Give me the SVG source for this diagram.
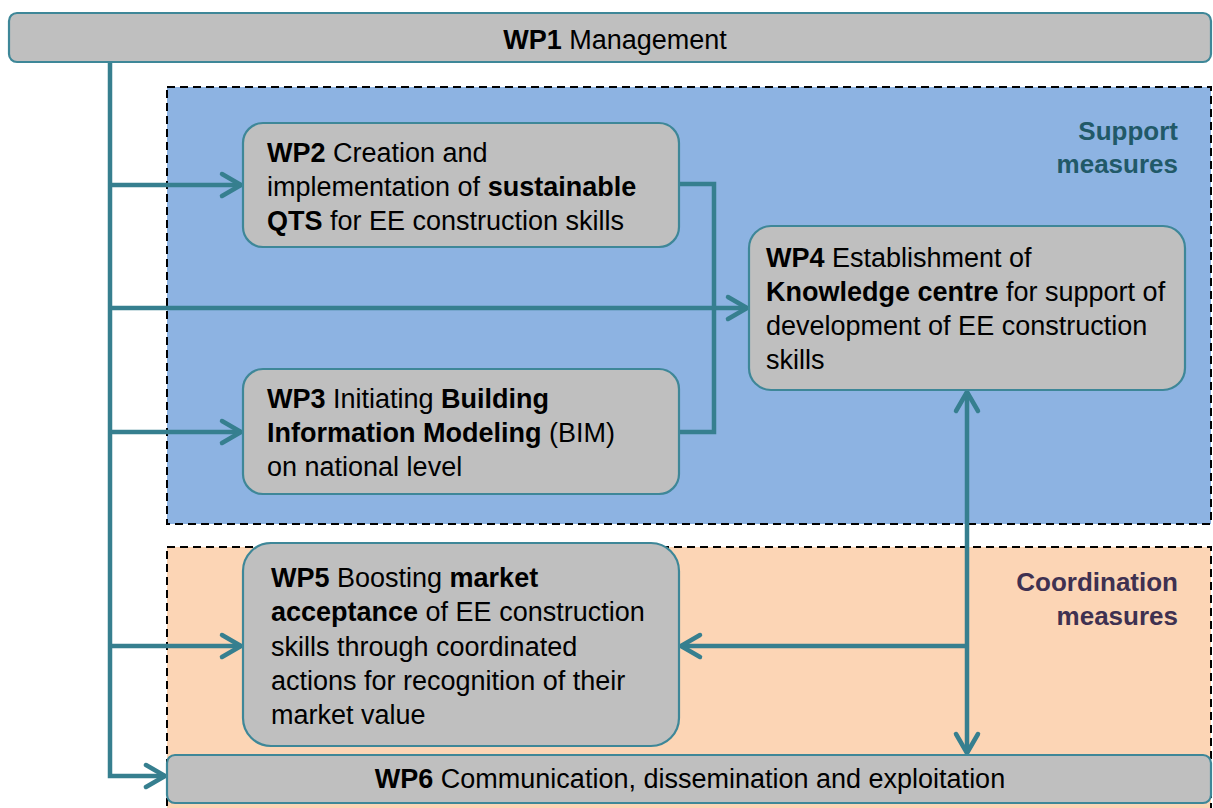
<svg xmlns="http://www.w3.org/2000/svg" width="1213" height="808" viewBox="0 0 1213 808">
<style>
text{font-family:"Liberation Sans",Arial,sans-serif;font-size:27px;fill:#000}
.b{font-weight:bold}
.box{fill:#bfbfbf;stroke:#3e8798;stroke-width:2.2}
.conn{fill:none;stroke:#367f8f;stroke-width:4.5;stroke-linejoin:miter}
.zone{stroke:#000;stroke-width:2;stroke-dasharray:8 5}
.sup{font-weight:bold;fill:#215968;font-size:26px}
.coo{font-weight:bold;fill:#3f3151;font-size:26px}
</style>
<defs>
<marker id="arr" markerUnits="userSpaceOnUse" markerWidth="30" markerHeight="30" viewBox="-24 -15 28 30" refX="0" refY="0" orient="auto-start-reverse">
<path d="M-19,-11 L0,0 L-19,11" fill="none" stroke="#367f8f" stroke-width="4.5" stroke-linecap="round" stroke-linejoin="round"/>
</marker>
</defs>
<rect width="1213" height="808" fill="#fff"/>
<g id="zone-support">
<rect class="zone" x="167" y="87" width="1044" height="437" fill="#8db3e2"/>
<text class="sup" x="1178" y="140" text-anchor="end">Support</text>
<text class="sup" x="1178" y="173" text-anchor="end">measures</text>
</g>
<g id="zone-coordination">
<rect class="zone" x="167" y="547" width="1044" height="275" fill="#fcd5b5"/>
<text class="coo" x="1178" y="591" text-anchor="end">Coordination</text>
<text class="coo" x="1178" y="625" text-anchor="end">measures</text>
</g>
<g id="connectors">
<path class="conn" d="M110,63 V776 H165" marker-end="url(#arr)"/>
<path class="conn" d="M110,185 H241" marker-end="url(#arr)"/>
<path class="conn" d="M110,308 H747" marker-end="url(#arr)"/>
<path class="conn" d="M110,432 H241" marker-end="url(#arr)"/>
<path class="conn" d="M110,646 H241" marker-end="url(#arr)"/>
<path class="conn" d="M680,184 H714 V432 H680"/>
<path class="conn" d="M967,392 V753" marker-start="url(#arr)" marker-end="url(#arr)"/>
<path class="conn" d="M967,646 H681" marker-end="url(#arr)"/>
</g>
<g id="wp1">
<rect class="box" x="9" y="13" width="1202" height="49" rx="8"/>
<text x="615" y="49" text-anchor="middle"><tspan class="b">WP1</tspan> Management</text>
</g>
<g id="wp2">
<rect class="box" x="243" y="123" width="436" height="124" rx="20"/>
<text x="267" y="162"><tspan class="b">WP2</tspan> Creation and</text>
<text x="267" y="196">implementation of <tspan class="b">sustainable</tspan></text>
<text x="267" y="230"><tspan class="b">QTS</tspan> for EE construction skills</text>
</g>
<g id="wp3">
<rect class="box" x="243" y="369" width="436" height="125" rx="20"/>
<text x="267" y="408"><tspan class="b">WP3</tspan> Initiating <tspan class="b">Building</tspan></text>
<text x="267" y="442"><tspan class="b">Information Modeling</tspan> (BIM)</text>
<text x="267" y="476">on national level</text>
</g>
<g id="wp4">
<rect class="box" x="749" y="226" width="436" height="164" rx="22"/>
<text x="766" y="267"><tspan class="b">WP4</tspan> Establishment of</text>
<text x="766" y="301"><tspan class="b">Knowledge centre</tspan> for support of</text>
<text x="766" y="335">development of EE construction</text>
<text x="766" y="369">skills</text>
</g>
<g id="wp5">
<rect class="box" x="243" y="543" width="436" height="203" rx="28"/>
<text x="271" y="587"><tspan class="b">WP5</tspan> Boosting <tspan class="b">market</tspan></text>
<text x="271" y="621"><tspan class="b">acceptance</tspan> of EE construction</text>
<text x="271" y="656">skills through coordinated</text>
<text x="271" y="690">actions for recognition of their</text>
<text x="271" y="724">market value</text>
</g>
<g id="wp6">
<rect class="box" x="167" y="755" width="1044" height="48" rx="8"/>
<text x="690" y="788" text-anchor="middle"><tspan class="b">WP6</tspan> Communication, dissemination and exploitation</text>
</g>
</svg>
